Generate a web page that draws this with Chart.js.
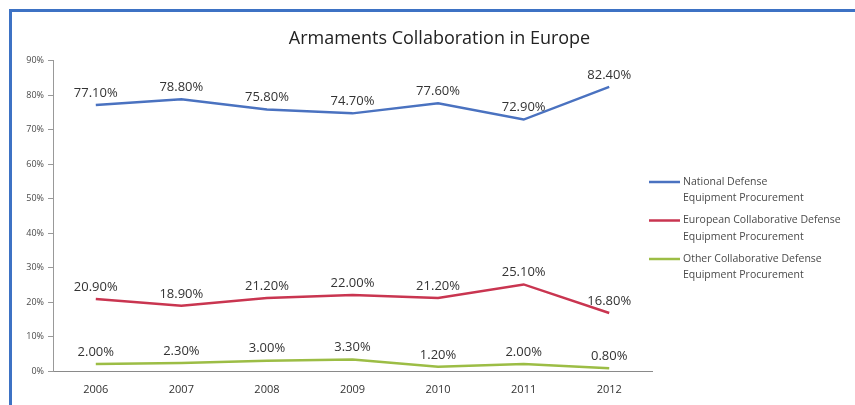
<!DOCTYPE html>
<html>
<head>
<meta charset="utf-8">
<title>Armaments Collaboration in Europe</title>
<script src="https://cdn.jsdelivr.net/npm/chart.js@4/dist/chart.umd.min.js"></script>
<style>
  html, body { margin: 0; padding: 0; background: #fff; }
  #frame {
    position: absolute; left: 9px; top: 9px; right: 0; bottom: 0;
    border-top: 3px solid #3d72c4; border-left: 3px solid #3d72c4;
  }
  #wrap { position: absolute; left: 0; top: 0; width: 855px; height: 405px; }
</style>
</head>
<body>
<div id="frame"></div>
<div id="wrap"><canvas id="armsChart"></canvas></div>
<script>
// --- data ---
const years = ['2006', '2007', '2008', '2009', '2010', '2011', '2012'];
const nationalShare = [77.1, 78.8, 75.8, 74.7, 77.6, 72.9, 82.4];
const europeanShare = [20.9, 18.9, 21.2, 22.0, 21.2, 25.1, 16.8];
const otherShare = [2.0, 2.3, 3.0, 3.3, 1.2, 2.0, 0.8];
const seriesNames = [
  ['National Defense', 'Equipment Procurement'],
  ['European Collaborative Defense', 'Equipment Procurement'],
  ['Other Collaborative Defense', 'Equipment Procurement']
];
const yTicks = [0, 10, 20, 30, 40, 50, 60, 70, 80, 90];

const FONT = '"Open Sans", "Noto Sans", sans-serif';
const COLORS = ['#4a72c0', '#c93550', '#9cbd45'];

// value labels above each point
const valueLabels = {
  id: 'valueLabels',
  afterDatasetsDraw(chart) {
    const ctx = chart.ctx;
    ctx.save();
    ctx.font = '13px ' + FONT;
    ctx.fillStyle = '#333';
    ctx.textAlign = 'center';
    ctx.textBaseline = 'middle';
    chart.data.datasets.forEach((ds, i) => {
      chart.getDatasetMeta(i).data.forEach((pt, j) => {
        ctx.fillText(ds.data[j].toFixed(2) + '%', pt.x, pt.y - 12);
      });
    });
    ctx.restore();
  }
};

// legend with line samples and two-line labels, drawn in the right gap
const sideLegend = {
  id: 'sideLegend',
  afterDraw(chart) {
    const ctx = chart.ctx;
    const x0 = chart.chartArea.right - 3;
    ctx.save();
    ctx.font = '10.5px ' + FONT;
    ctx.textBaseline = 'middle';
    chart.data.datasets.forEach((ds, i) => {
      const y = 182 + i * 38.5;
      ctx.strokeStyle = ds.borderColor;
      ctx.lineWidth = 2.5;
      ctx.beginPath();
      ctx.moveTo(x0, y);
      ctx.lineTo(x0 + 31, y);
      ctx.stroke();
      ctx.fillStyle = '#4a4a4a';
      ds.label.forEach((line, k) => ctx.fillText(line, x0 + 34, y + k * 16.5));
    });
    ctx.restore();
  }
};

const lineSet = (label, data, color) => ({
  label, data,
  borderColor: color, backgroundColor: color,
  borderWidth: 2.5, pointRadius: 0, tension: 0, yAxisID: 'y'
});

new Chart(document.getElementById('armsChart'), {
  type: 'line',
  data: {
    labels: years,
    datasets: [
      lineSet(seriesNames[0], nationalShare, COLORS[0]),
      lineSet(seriesNames[1], europeanShare, COLORS[1]),
      lineSet(seriesNames[2], otherShare, COLORS[2])
    ]
  },
  options: {
    responsive: true,
    maintainAspectRatio: false,
    animation: false,
    layout: { padding: { left: 24, right: 0, top: 0, bottom: 9 } },
    plugins: {
      legend: { display: false },
      tooltip: { enabled: false },
      title: {
        display: true,
        text: 'Armaments Collaboration in Europe',
        color: '#222',
        font: { family: FONT, size: 18, weight: 'normal' },
        padding: { top: 28, bottom: 11 }
      }
    },
    scales: {
      x: {
        offset: true,
        afterFit: s => { s.height = 25; },
        grid: { display: true, drawOnChartArea: false, drawTicks: false },
        border: { color: '#8a8a8a', width: 1 },
        ticks: { color: '#333', padding: 12, font: { family: FONT, size: 11 } }
      },
      y: {
        min: 0, max: 90,
        afterBuildTicks: s => { s.ticks = yTicks.map(v => ({ value: v })); },
        afterFit: s => { s.width = 29; },
        grid: { drawOnChartArea: false, tickLength: 5, color: '#999' },
        border: { color: '#999', width: 1 },
        ticks: {
          color: '#4a4a4a', padding: 4,
          font: { family: FONT, size: 9 },
          callback: v => v + '%'
        }
      },
      legendGap: {
        type: 'linear', position: 'right',
        afterFit: s => { s.width = 203; },
        grid: { display: false },
        border: { display: false },
        ticks: { display: false }
      }
    }
  },
  plugins: [valueLabels, sideLegend]
});
</script>
</body>
</html>
